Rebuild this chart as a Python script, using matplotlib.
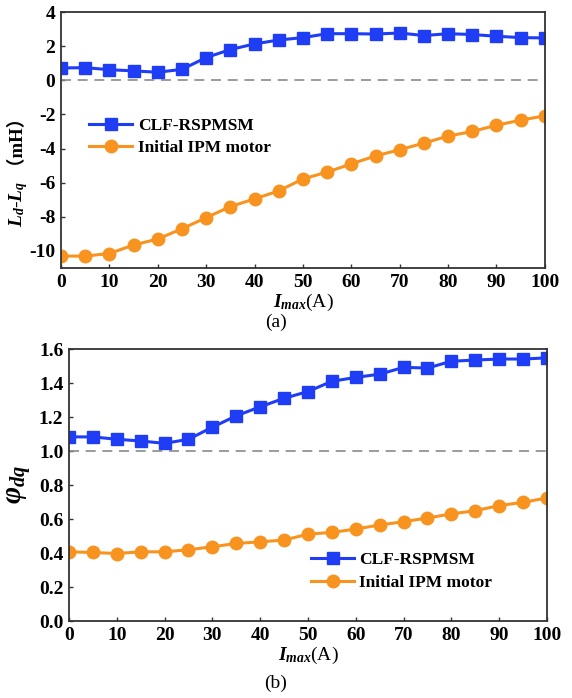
import matplotlib
matplotlib.use("Agg")
import matplotlib.pyplot as plt
import numpy as np

plt.rcParams['font.family'] = ['Liberation Serif', 'Noto Sans CJK SC', 'DejaVu Sans']
plt.rcParams['font.weight'] = 'bold'
plt.rcParams['axes.unicode_minus'] = False
plt.rcParams['mathtext.fontset'] = 'custom'
plt.rcParams['mathtext.rm'] = 'Liberation Serif:bold'
plt.rcParams['mathtext.it'] = 'Liberation Serif:bold:italic'
plt.rcParams['mathtext.bf'] = 'Liberation Serif:bold'

# current amplitude (A)
i_max = [0, 5, 10, 15, 20, 25, 30, 35, 40, 45, 50,
         55, 60, 65, 70, 75, 80, 85, 90, 95, 100]

# Ld - Lq (mH)
ldq_clf = [0.72, 0.74, 0.62, 0.55, 0.47, 0.64, 1.33, 1.80, 2.13, 2.36, 2.50,
           2.73, 2.73, 2.71, 2.77, 2.62, 2.73, 2.68, 2.58, 2.50, 2.48]
ldq_ipm = [-10.3, -10.3, -10.15, -9.65, -9.3, -8.7, -8.05, -7.4, -6.95, -6.48, -5.78,
           -5.38, -4.9, -4.43, -4.07, -3.68, -3.27, -3.0, -2.63, -2.34, -2.08]

# saliency ratio
phi_clf = [1.083, 1.083, 1.069, 1.059, 1.045, 1.069, 1.140, 1.207, 1.260, 1.310, 1.350,
           1.410, 1.433, 1.452, 1.492, 1.488, 1.528, 1.535, 1.541, 1.541, 1.548]
phi_ipm = [0.407, 0.403, 0.397, 0.407, 0.407, 0.419, 0.437, 0.456, 0.466, 0.476, 0.511,
           0.521, 0.541, 0.565, 0.584, 0.606, 0.630, 0.649, 0.679, 0.698, 0.724]

names = ['CLF-RSPMSM', 'Initial IPM motor']
blue = '#1f3df5'
orange = '#f7931e'
spine_col = '#333333'

fig = plt.figure(figsize=(5.72, 6.98), dpi=100)
ax1 = fig.add_axes([0.1066, 0.616, 0.846, 0.3668])
ax2 = fig.add_axes([0.1206, 0.1103, 0.8357, 0.3897])


def style(ax):
    for s in ax.spines.values():
        s.set_color(spine_col)
        s.set_linewidth(1.3)
    ax.tick_params(direction='in', length=3, width=1, color=spine_col,
                   labelsize=14, pad=4)
    for lab in ax.get_xticklabels() + ax.get_yticklabels():
        lab.set_fontweight('bold')
    ax.set_xlim(0, 100)
    ax.set_xticks(np.arange(0, 101, 10))


# (a) Ld - Lq
ax1.axhline(0, color='#8a8a8a', lw=1.2, ls=(0, (6, 4)))
ax1.plot(i_max, ldq_clf, color=blue, lw=2.2, marker='s', ms=9, label=names[0])
ax1.plot(i_max, ldq_ipm, color=orange, lw=2.2, marker='o', ms=9, label=names[1])
ax1.set_ylim(-11, 4)
ax1.set_yticks(np.arange(-10, 5, 2))
style(ax1)
ax1.set_xlabel(r'$I_{max}$(A)', fontsize=14, labelpad=1)
ax1.set_ylabel(r'$L_d$-$L_q$', fontsize=14)
ax1.yaxis.set_label_coords(-0.065, 0.25)
# unit in full-width brackets, set just above the symbol part
ax1.annotate(' （mH）', xy=(0.5, 1.0), xycoords=ax1.yaxis.label,
             rotation=90, ha='center', va='bottom', fontsize=13.5,
             fontweight='bold', family=['Liberation Serif', 'Noto Sans CJK SC'])
ax1.legend(loc='upper left', bbox_to_anchor=(0.058, 0.585), frameon=False,
           borderaxespad=0, borderpad=0, handlelength=2.5, handletextpad=0.3,
           labelspacing=0.3, prop={'weight': 'bold', 'size': 12.5})
fig.text(0.4825, 1 - 322 / 698, '(a)', ha='center', va='center',
         fontsize=14, fontweight='normal')

# (b) saliency ratio
ax2.axhline(1.0, color='#8a8a8a', lw=1.2, ls=(0, (6, 4)))
ax2.plot(i_max, phi_clf, color=blue, lw=2.2, marker='s', ms=9, label=names[0])
ax2.plot(i_max, phi_ipm, color=orange, lw=2.2, marker='o', ms=9, label=names[1])
ax2.set_ylim(0, 1.6)
ax2.set_yticks(np.arange(0, 1.61, 0.2))
ax2.yaxis.set_major_formatter(matplotlib.ticker.FormatStrFormatter('%.1f'))
style(ax2)
ax2.set_xlabel(r'$I_{max}$(A)', fontsize=14, labelpad=1)
ax2.set_ylabel(r'$\varphi_{dq}$', fontsize=21, labelpad=4)
ax2.legend(loc='upper left', bbox_to_anchor=(0.506, 0.255), frameon=False,
           borderaxespad=0, borderpad=0, handlelength=2.5, handletextpad=0.3,
           labelspacing=0.4, prop={'weight': 'bold', 'size': 12.5})
fig.text(0.4825, 1 - 683 / 698, '(b)', ha='center', va='center',
         fontsize=14, fontweight='normal')

fig.savefig('out.png', dpi=100)
